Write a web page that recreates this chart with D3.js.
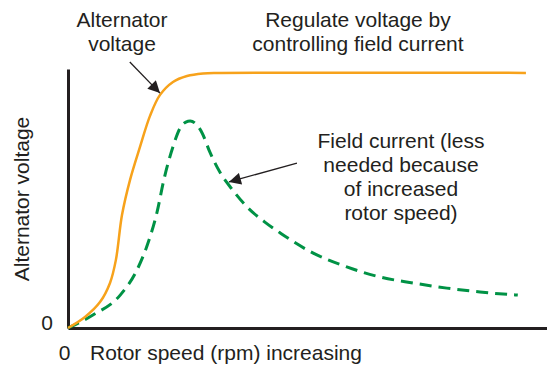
<!DOCTYPE html>
<html>
<head>
<meta charset="utf-8">
<script src="https://cdn.jsdelivr.net/npm/d3@7"></script>
<style>
  html, body { margin: 0; padding: 0; background: #fff; }
  svg text { font-family: "Liberation Sans", Arial, Helvetica, sans-serif; fill: #231f20; }
</style>
</head>
<body>
<svg id="chart" width="547" height="368"></svg>
<script>
// Rotor speed (relative units, 0–100) for the alternator voltage curve
const voltageSpeed = [0, 3.55, 6.68, 8.77, 10.0, 11.27, 12.94, 15.03, 17.12, 19.21, 21.92, 24.84, 28.18, 31.73, 95.6];
// Alternator voltage (relative units) — rises then is held constant by the regulator
const voltageLevel = [0, 4.25, 10.0, 17.4, 26.3, 43.6, 57.1, 69.9, 81.9, 90.0, 95.0, 97.3, 98.3, 98.5, 98.5];

// Rotor speed for the field current curve
const fieldSpeed = [0, 5.2, 10.9, 14.4, 16.7, 18.6, 20.0, 21.9, 23.4, 24.6, 25.5, 26.7, 28.0, 29.6, 31.7, 34.2, 37.4, 41.1, 44.3, 51.1, 58.2, 65.1, 72.0, 79.1, 86.0, 93.9];
// Field current (relative units) — peaks, then falls as rotor speed increases
const fieldLevel = [0, 5.0, 12.7, 22.4, 32.8, 44.8, 57.1, 69.9, 77.2, 79.5, 79.9, 78.8, 75.3, 68.0, 60.2, 53.7, 46.7, 40.9, 36.7, 29.0, 23.6, 19.7, 17.4, 15.4, 13.9, 12.7];

// Tick labels on each axis
const xTickValues = [0];
const yTickValues = [0];

// Callout texts and their arrows (arrow ends in data units: [tailX, tailY, tipX, tipY])
const voltageNote = ["Alternator", "voltage"];
const regulateNote = ["Regulate voltage by", "controlling field current"];
const fieldNote = ["Field current (less", "needed because", "of increased", "rotor speed)"];
const voltageArrow = [12.9, 102.7, 19.2, 90.7];
const fieldArrow = [47.8, 63.7, 33.6, 56.4];

const xTitle = "Rotor speed (rpm) increasing";
const yTitle = "Alternator voltage";

const svg = d3.select("#chart");
const ink = "#231f20";
const orange = "#f7a21b";
const green = "#009245";
const fontSize = 21;

const x = d3.scaleLinear().domain([0, 100]).range([68, 547]);
const y = d3.scaleLinear().domain([0, 100]).range([328, 69]);

// Arrowhead marker
svg.append("defs").append("marker")
  .attr("id", "head")
  .attr("viewBox", "0 0 10 10")
  .attr("refX", 10).attr("refY", 5)
  .attr("markerWidth", 15).attr("markerHeight", 12)
  .attr("markerUnits", "userSpaceOnUse")
  .attr("orient", "auto")
  .append("path").attr("d", "M0,0 L10,5 L0,10 Z").attr("fill", ink);

// Axes
const xAxis = svg.append("g")
  .attr("transform", `translate(0,${y(0)})`)
  .call(d3.axisBottom(x).tickValues(xTickValues).tickFormat(d3.format("d")).tickSize(0).tickSizeOuter(0).tickPadding(17));
const yAxis = svg.append("g")
  .attr("transform", `translate(${x(0)},0)`)
  .call(d3.axisLeft(y).tickValues(yTickValues).tickFormat(d3.format("d")).tickSize(0).tickSizeOuter(0).tickPadding(15));

[xAxis, yAxis].forEach(g => {
  g.select(".domain").attr("stroke", ink).attr("stroke-width", 3);
  g.selectAll("text").attr("font-size", fontSize).attr("fill", ink)
    .style("font-family", '"Liberation Sans", Arial, sans-serif');
});
xAxis.selectAll(".tick text").attr("dx", -4);
yAxis.selectAll(".tick text").attr("dy", "0.05em");

// Axis titles
svg.append("text")
  .attr("x", 90).attr("y", 360)
  .attr("font-size", fontSize)
  .text(xTitle);
svg.append("text")
  .attr("transform", "translate(29,199) rotate(-90)")
  .attr("text-anchor", "middle")
  .attr("font-size", fontSize)
  .text(yTitle);

// Curves
const fieldLine = d3.line().x(d => x(d[0])).y(d => y(d[1])).curve(d3.curveMonotoneX);
const voltageLine = d3.line().x(d => x(d[0])).y(d => y(d[1])).curve(d3.curveCatmullRom.alpha(0.5));

svg.append("path")
  .datum(fieldSpeed.map((s, i) => [s, fieldLevel[i]]))
  .attr("d", fieldLine)
  .attr("fill", "none")
  .attr("stroke", green)
  .attr("stroke-width", 3)
  .attr("stroke-dasharray", "12,7");

svg.append("path")
  .datum(voltageSpeed.map((s, i) => [s, voltageLevel[i]]))
  .attr("d", voltageLine)
  .attr("fill", "none")
  .attr("stroke", orange)
  .attr("stroke-width", 2.5);

// Callout arrows
[voltageArrow, fieldArrow].forEach(a => {
  svg.append("line")
    .attr("x1", x(a[0])).attr("y1", y(a[1]))
    .attr("x2", x(a[2])).attr("y2", y(a[3]))
    .attr("stroke", ink).attr("stroke-width", 1.3)
    .attr("marker-end", "url(#head)");
});

// Callout texts
function block(lines, cx, firstBaseline, step) {
  const t = svg.append("text")
    .attr("text-anchor", "middle")
    .attr("font-size", fontSize);
  lines.forEach((s, i) => {
    t.append("tspan").attr("x", cx).attr("y", firstBaseline + i * step).text(s);
  });
}
block(voltageNote, 122, 27, 24);
block(regulateNote, 358, 27, 24);
block(fieldNote, 401, 148, 24);
</script>
</body>
</html>
